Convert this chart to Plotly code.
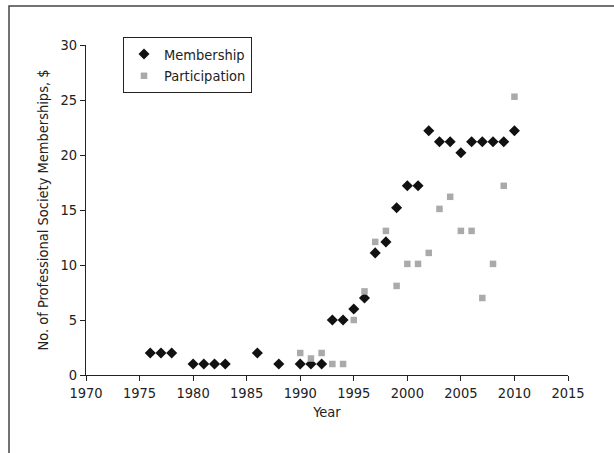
import plotly.graph_objects as go

mem_years = [1976, 1977, 1978, 1980, 1981, 1982, 1983, 1986, 1988, 1990, 1991, 1992,
             1993, 1994, 1995, 1996, 1997, 1998, 1999, 2000, 2001, 2002, 2003, 2004,
             2005, 2006, 2007, 2008, 2009, 2010]
mem_values = [2, 2, 2, 1, 1, 1, 1, 2, 1, 1, 1, 1,
              5, 5, 6, 7, 11.1, 12.1, 15.2, 17.2, 17.2, 22.2, 21.2, 21.2,
              20.2, 21.2, 21.2, 21.2, 21.2, 22.2]

par_years = [1990, 1991, 1992, 1993, 1994, 1995, 1996, 1997, 1998, 1999, 2000, 2001,
             2002, 2003, 2004, 2005, 2006, 2007, 2008, 2009, 2010]
par_values = [2, 1.5, 2, 1, 1, 5, 7.6, 12.1, 13.1, 8.1, 10.1, 10.1,
              11.1, 15.1, 16.2, 13.1, 13.1, 7, 10.1, 17.2, 25.3]

x_ticks = [1970, 1975, 1980, 1985, 1990, 1995, 2000, 2005, 2010, 2015]
y_ticks = [0, 5, 10, 15, 20, 25, 30]

FONT = "DejaVu Sans Condensed, Liberation Sans Narrow, sans-serif"

fig = go.Figure()
fig.add_trace(go.Scatter(
    x=mem_years, y=mem_values, mode="markers", name="Membership",
    marker=dict(symbol="diamond", size=8.5, color="#111111", line=dict(width=0)),
))
fig.add_trace(go.Scatter(
    x=par_years, y=par_values, mode="markers", name="Participation",
    marker=dict(symbol="square", size=6.5, color="#aaaaaa", line=dict(width=0)),
))

L, R, T, B = 86, 46, 45, 78
W, H = 614, 453
pw = W - L - R
ph = H - T - B

def px_x(p):
    return (p - L) / pw

def px_y(p):
    return (H - B - p) / ph

fig.update_layout(
    width=W, height=H,
    margin=dict(l=L, r=R, t=T, b=B),
    paper_bgcolor="white", plot_bgcolor="white",
    font=dict(family=FONT, size=14.5, color="#222222"),
    showlegend=True,
    legend=dict(
        x=px_x(123), y=px_y(37), xanchor="left", yanchor="top",
        bordercolor="#222222", borderwidth=1, bgcolor="white",
        font=dict(family=FONT, size=14.5, color="#222222"),
        itemwidth=30, tracegroupgap=0,
    ),
    xaxis=dict(
        range=[1970, 2015], tickvals=x_ticks, ticktext=[str(v) for v in x_ticks],
        showgrid=False, zeroline=False, showline=True, linecolor="#222222", linewidth=1,
        ticks="outside", ticklen=5, tickcolor="#222222",
        title=dict(text="Year", standoff=6, font=dict(family=FONT, size=14.5)),
    ),
    yaxis=dict(
        range=[0, 30], tickvals=y_ticks,
        showgrid=False, zeroline=False, showline=True, linecolor="#222222", linewidth=1,
        ticks="outside", ticklen=5, tickcolor="#222222",
        title=dict(text="No. of Professional Society Memberships, $", standoff=8,
                   font=dict(family=FONT, size=14.5)),
    ),
    shapes=[dict(
        type="rect", xref="paper", yref="paper",
        x0=px_x(9), x1=px_x(640), y0=px_y(6), y1=px_y(480),
        line=dict(color="#444444", width=1.5), fillcolor="rgba(0,0,0,0)", layer="below",
    )],
)

fig.write_html("out.html")
